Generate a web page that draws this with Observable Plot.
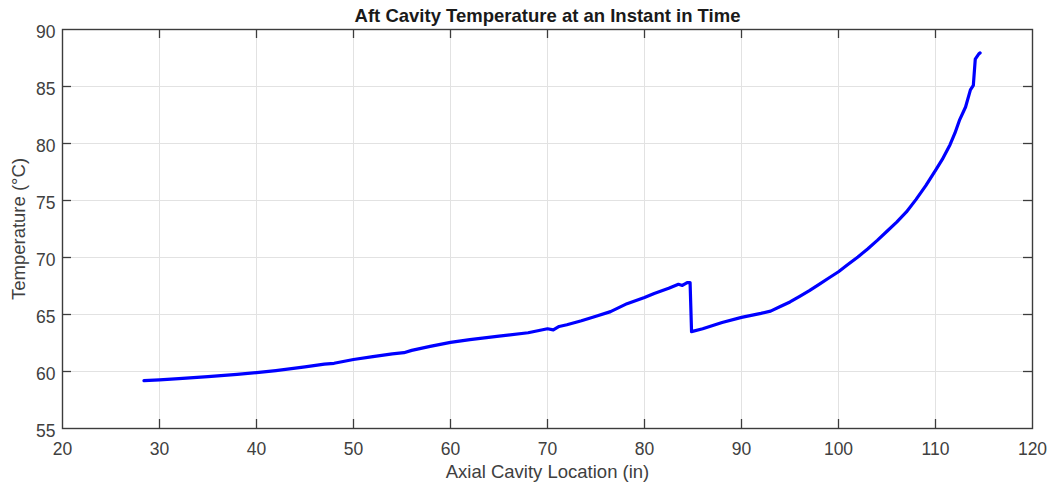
<!DOCTYPE html>
<html>
<head>
<meta charset="utf-8">
<script src="https://cdn.jsdelivr.net/npm/d3@7"></script>
<script src="https://cdn.jsdelivr.net/npm/@observablehq/plot@0.6"></script>
<style>
  html, body { margin: 0; padding: 0; background: #fff; }
  #chart svg { display: block; }
</style>
</head>
<body>
<div id="chart"></div>
<script>
const title = "Aft Cavity Temperature at an Instant in Time";
const xLabel = "Axial Cavity Location (in)";
const yLabel = "Temperature (°C)";

const xTicks = [20, 30, 40, 50, 60, 70, 80, 90, 100, 110, 120];
const yTicks = [55, 60, 65, 70, 75, 80, 85, 90];

const axialLocation = [
  28.4, 30, 32, 35, 38, 40, 42, 45, 47, 48, 50, 52, 54, 55.2, 56, 57.9,
  60, 62, 65, 68, 70, 70.6, 71.2, 72, 73.5, 75, 76.5, 78.2, 80, 81, 82.5,
  83.5, 83.9, 84.4, 84.7, 84.85, 86, 88, 90, 92, 93, 94, 95, 96, 97, 98,
  99, 100, 101, 102, 103, 104, 105, 106, 107, 108, 109, 110, 110.7, 111.5,
  112.0, 112.5, 113.1, 113.6, 113.9, 114.1, 114.45, 114.6
];
const temperature = [
  59.2, 59.27, 59.38, 59.55, 59.75, 59.9, 60.08, 60.4, 60.65, 60.72, 61.05,
  61.3, 61.55, 61.65, 61.85, 62.2, 62.55, 62.8, 63.1, 63.4, 63.75, 63.65,
  63.95, 64.1, 64.45, 64.85, 65.25, 65.95, 66.5, 66.85, 67.3, 67.65, 67.55,
  67.8, 67.8, 63.5, 63.75, 64.3, 64.75, 65.1, 65.3, 65.7, 66.1, 66.6, 67.1,
  67.65, 68.2, 68.75, 69.4, 70.05, 70.75, 71.5, 72.3, 73.1, 74.0, 75.1,
  76.3, 77.65, 78.6, 79.9, 80.9, 82.1, 83.2, 84.7, 85.1, 87.4, 87.85, 87.95
];

const data = axialLocation.map((x, i) => ({x, y: temperature[i]}));

const W = 1050, H = 487;
const mL = 62, mR = 18, mT = 29, mB = 59;
const innerW = W - mL - mR, innerH = H - mT - mB;
const tickLen = 9;
const axisColor = "#3c3c3c";
const textColor = "#404040";

const chart = Plot.plot({
  width: W,
  height: H,
  marginLeft: mL,
  marginRight: mR,
  marginTop: mT,
  marginBottom: mB,
  style: {fontFamily: "'Liberation Sans', Arial, Helvetica, sans-serif", fontSize: "17px", color: textColor, background: "#fff"},
  x: {domain: [20, 120], ticks: xTicks},
  y: {domain: [55, 90], ticks: yTicks},
  marks: [
    Plot.gridX(xTicks.slice(1, -1), {stroke: "#e2e2e2", strokeOpacity: 1, strokeWidth: 1}),
    Plot.gridY(yTicks.slice(1, -1), {stroke: "#e2e2e2", strokeOpacity: 1, strokeWidth: 1}),
    Plot.tickX(xTicks.slice(1, -1), {x: d => d, insetTop: innerH - tickLen, stroke: axisColor, strokeWidth: 1.3}),
    Plot.tickX(xTicks.slice(1, -1), {x: d => d, insetBottom: innerH - tickLen, stroke: axisColor, strokeWidth: 1.3}),
    Plot.tickY(yTicks.slice(1, -1), {y: d => d, insetRight: innerW - tickLen, stroke: axisColor, strokeWidth: 1.3}),
    Plot.tickY(yTicks.slice(1, -1), {y: d => d, insetLeft: innerW - tickLen, stroke: axisColor, strokeWidth: 1.3}),
    Plot.axisX(xTicks, {tickSize: 0, tickPadding: 0, dy: 21, lineAnchor: "middle", fill: textColor, fontSize: 17.5, label: null}),
    Plot.axisY(yTicks, {tickSize: 0, tickPadding: 7, dy: 3, fill: textColor, fontSize: 17.5, label: null}),
    Plot.line(data, {x: "x", y: "y", stroke: "#0000ff", strokeWidth: 3.2, strokeLinejoin: "round", strokeLinecap: "round", curve: "linear"}),
    Plot.frame({stroke: axisColor, strokeWidth: 1.4}),
    Plot.text([title], {frameAnchor: "top", dy: -13, textAnchor: "middle", lineAnchor: "middle", fontWeight: "bold", fontSize: 18.5, fill: "#1a1a1a"}),
    Plot.text([xLabel], {frameAnchor: "bottom", dy: 44, textAnchor: "middle", lineAnchor: "middle", fontSize: 18.5, fill: textColor}),
    Plot.text([yLabel], {frameAnchor: "left", dx: -43, rotate: -90, textAnchor: "middle", lineAnchor: "middle", fontSize: 18.5, fill: textColor})
  ]
});

document.getElementById("chart").appendChild(chart);
</script>
</body>
</html>
